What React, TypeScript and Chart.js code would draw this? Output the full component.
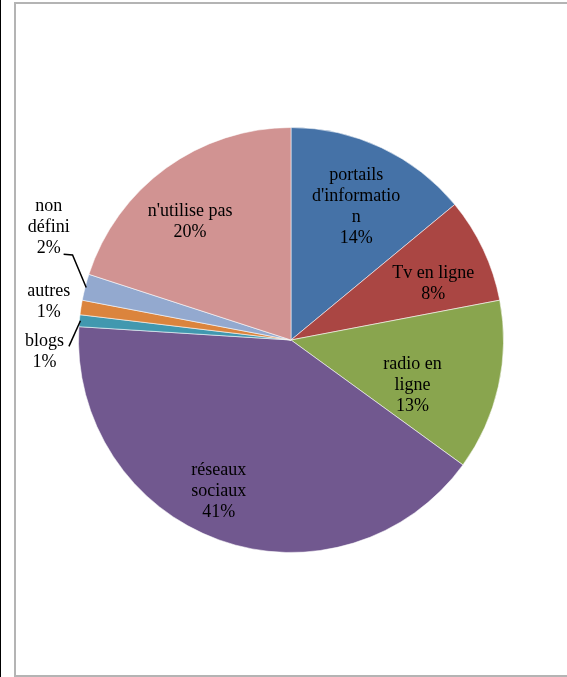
import React, { useEffect, useRef } from "react";
import { Chart, registerables } from "chart.js";

Chart.register(...registerables);

const categories: string[][] = [
  ["portails", "d'informatio", "n"],
  ["Tv en ligne"],
  ["radio en", "ligne"],
  ["réseaux", "sociaux"],
  ["blogs"],
  ["autres"],
  ["non", "défini"],
  ["n'utilise pas"],
];
const values: number[] = [14, 8, 13, 41, 0.9, 1.1, 2, 20];
const percentLabels: string[] = ["14%", "8%", "13%", "41%", "1%", "1%", "2%", "20%"];
const colors: string[] = [
  "#4572A7",
  "#AA4643",
  "#89A54E",
  "#71588F",
  "#4198AF",
  "#DB843D",
  "#93A9CF",
  "#D19392",
];

type Place =
  | { kind: "in"; frac: number; dAngle: number }
  | { kind: "out"; dx: number; dy: number; leader?: number[][] };

const placements: Place[] = [
  { kind: "in", frac: 0.70, dAngle: 0.8 },
  { kind: "in", frac: 0.72, dAngle: 3.5 },
  { kind: "in", frac: 0.61, dAngle: 7.8 },
  { kind: "in", frac: 0.79, dAngle: 5.7 },
  { kind: "out", dx: -1.16, dy: 0.056, leader: [[-1.045, 0.03]] },
  { kind: "out", dx: -1.14, dy: -0.18 },
  { kind: "out", dx: -1.14, dy: -0.53, leader: [[-1.07, -0.404], [-1.028, -0.40]] },
  { kind: "in", frac: 0.73, dAngle: -4.6 },
];

const FONT = '18px "Times New Roman", "Liberation Serif", "DejaVu Serif", serif';
const LINE_H = 21;

const labelPlugin = {
  id: "sliceLabels",
  afterDatasetsDraw(chart: any) {
    const ctx: CanvasRenderingContext2D = chart.ctx;
    const meta = chart.getDatasetMeta(0);
    ctx.save();
    ctx.font = FONT;
    ctx.fillStyle = "#000";
    ctx.textAlign = "center";
    ctx.textBaseline = "middle";
    meta.data.forEach((arc: any, i: number) => {
      const { x, y, outerRadius, startAngle, endAngle } = arc.getProps(
        ["x", "y", "outerRadius", "startAngle", "endAngle"],
        true
      );
      const mid = (startAngle + endAngle) / 2;
      const p = placements[i];
      let lx: number;
      let ly: number;
      if (p.kind === "in") {
        const a = mid + (p.dAngle * Math.PI) / 180;
        lx = x + Math.cos(a) * outerRadius * p.frac;
        ly = y + Math.sin(a) * outerRadius * p.frac;
      } else {
        lx = x + p.dx * outerRadius;
        ly = y + p.dy * outerRadius;
        if (p.leader) {
          ctx.save();
          ctx.strokeStyle = "#000";
          ctx.lineWidth = 1.5;
          ctx.beginPath();
          const pts = p.leader.map((q) => [x + q[0] * outerRadius, y + q[1] * outerRadius]);
          ctx.moveTo(pts[0][0], pts[0][1]);
          for (let k = 1; k < pts.length; k++) ctx.lineTo(pts[k][0], pts[k][1]);
          ctx.lineTo(x + Math.cos(mid) * outerRadius * 0.995, y + Math.sin(mid) * outerRadius * 0.995);
          ctx.stroke();
          ctx.restore();
        }
      }
      const lines = [...categories[i], percentLabels[i]];
      const top = ly - ((lines.length - 1) * LINE_H) / 2;
      lines.forEach((t, k) => ctx.fillText(t, lx, top + k * LINE_H));
    });
    ctx.restore();
  },
};

export default function App() {
  const ref = useRef<HTMLCanvasElement | null>(null);
  useEffect(() => {
    if (!ref.current) return;
    let chart: Chart | null = null;
    let cancelled = false;
    const make = () => {
      if (cancelled || !ref.current) return;
      chart = new Chart(ref.current, {
        type: "pie",
        data: {
          labels: categories.map((c) => c.join(" ")),
          datasets: [
            {
              data: values,
              backgroundColor: colors,
              borderColor: "rgba(255,255,255,0.55)",
              borderWidth: 1,
            },
          ],
        },
        options: {
          animation: false,
          responsive: false,
          maintainAspectRatio: false,
          layout: { padding: { left: 78, right: 63, top: 127, bottom: 124 } },
          plugins: {
            legend: { display: false },
            tooltip: { enabled: false },
          },
        },
        plugins: [labelPlugin],
      });
    };
    const fonts: any = (document as any).fonts;
    if (fonts && fonts.load) {
      fonts.load(FONT, "abcé%").then(make, make);
    } else {
      make();
    }
    return () => {
      cancelled = true;
      if (chart) chart.destroy();
    };
  }, []);

  return (
    <div
      style={{
        position: "fixed",
        left: 0,
        top: 0,
        width: 567,
        height: 677,
        background: "#fff",
        overflow: "hidden",
      }}
    >
      <div style={{ position: "absolute", left: 0, top: 0, width: 1, height: 677, background: "#000" }} />
      <div
        style={{
          position: "absolute",
          left: 14,
          top: 2,
          width: 600,
          height: 671,
          border: "2px solid #b4b4b4",
        }}
      />
      <canvas
        ref={ref}
        width={567}
        height={677}
        style={{ position: "absolute", left: 0, top: 0, width: 567, height: 677 }}
      />
    </div>
  );
}
